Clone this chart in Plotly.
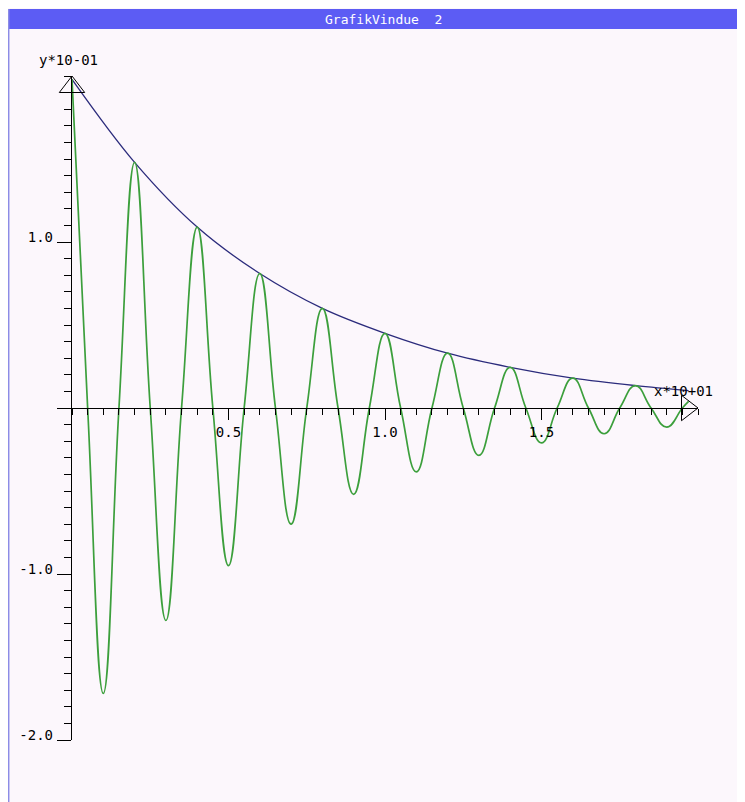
import plotly.graph_objects as go

# values in display units (x*10+01, y*10-01)
PEAK_X = [0.0, 0.1, 0.2, 0.3, 0.4, 0.5, 0.6, 0.7, 0.8, 0.9,
          1.0, 1.1, 1.2, 1.3, 1.4, 1.5, 1.6, 1.7, 1.8, 1.9, 1.97]
PEAK_Y = [1.98, -1.72, 1.48, -1.28, 1.09, -0.95, 0.81, -0.70, 0.60, -0.52,
          0.45, -0.385, 0.33, -0.285, 0.245, -0.21, 0.18, -0.155, 0.135, -0.115, 0.04]
CROSS_X = [0.05, 0.15, 0.25, 0.35, 0.45, 0.55, 0.65, 0.75, 0.85, 0.95,
           1.05, 1.15, 1.25, 1.35, 1.45, 1.55, 1.65, 1.75, 1.85, 1.95]

ENV_X = [0.0, 0.2, 0.4, 0.6, 0.8, 1.0, 1.2, 1.4, 1.6, 1.8, 1.97]
ENV_Y = [1.98, 1.48, 1.09, 0.81, 0.60, 0.45, 0.33, 0.245, 0.18, 0.135, 0.105]

X_TICKS = [0.5, 1.0, 1.5]
X_LABELS = ["0.5", "1.0", "1.5"]
Y_TICKS = [-2.0, -1.0, 0.0, 1.0]
Y_LABELS = ["-2.0", "-1.0", "", "1.0"]

# the page body adds 8px of white on the top and left
W, H = 737, 794
L, T, PW, PH = 64, 68, 626, 664
MONO = "DejaVu Sans Mono"


def px(x):
    # page pixel -> paper coordinate
    return (x - 8 - L) / PW


def py(y):
    return 1 - (y - 8 - T) / PH


pts = sorted(list(zip(PEAK_X, PEAK_Y)) + [(c, 0.0) for c in CROSS_X])
green_x = [p[0] for p in pts]
green_y = [p[1] for p in pts]

fig = go.Figure()
fig.add_trace(go.Scatter(
    x=ENV_X, y=ENV_Y, mode="lines",
    line=dict(color="#2b2b7c", width=1.3, shape="spline", smoothing=1.0),
    cliponaxis=False, showlegend=False,
))
fig.add_trace(go.Scatter(
    x=green_x, y=green_y, mode="lines",
    line=dict(color="#3c9f3c", width=1.7, shape="spline", smoothing=1.3),
    cliponaxis=False, showlegend=False,
))
# hollow arrow heads at the axis ends
fig.add_trace(go.Scatter(
    x=[0.0], y=[2.0 - 11 / 166], mode="markers",
    marker=dict(symbol="triangle-up-open", size=22, color="black", line=dict(width=1)),
    cliponaxis=False, showlegend=False,
))
fig.add_trace(go.Scatter(
    x=[2.0 - 11 / 313], y=[0.0], mode="markers",
    marker=dict(symbol="triangle-right-open", size=22, color="black", line=dict(width=1)),
    cliponaxis=False, showlegend=False,
))

bg = "#fcf7fc"
shapes = [
    dict(type="rect", xref="paper", yref="paper",
         x0=px(8), x1=px(760), y0=py(9), y1=py(29), fillcolor="#5c5cf4", line_width=0),
    dict(type="line", xref="paper", yref="paper",
         x0=px(8.7), x1=px(8.7), y0=py(9), y1=py(810), line=dict(color="#8c8ce6", width=1.5)),
]

annotations = [
    dict(text="GrafikVindue  2", x=px(383), y=py(19), xref="paper", yref="paper",
         xanchor="center", yanchor="middle",
         showarrow=False, font=dict(family=MONO, size=13, color="white")),
    dict(text="y*10-01", x=px(37), y=py(60), xref="paper", yref="paper",
         xanchor="left", yanchor="middle",
         showarrow=False, font=dict(family=MONO, size=14, color="black")),
    dict(text="x*10+01", x=px(652), y=py(391), xref="paper", yref="paper",
         xanchor="left", yanchor="middle",
         showarrow=False, font=dict(family=MONO, size=14, color="black")),
]

fig.update_layout(
    width=W, height=H,
    margin=dict(l=L, r=W - L - PW, t=T, b=H - T - PH),
    paper_bgcolor=bg, plot_bgcolor=bg,
    shapes=shapes, annotations=annotations,
    font=dict(family=MONO, size=14, color="black"),
    xaxis=dict(
        range=[0, 2.0], anchor="free", position=0.5,
        showline=True, linecolor="black", linewidth=1.3,
        showgrid=False, zeroline=False,
        tickmode="array", tickvals=X_TICKS, ticktext=X_LABELS,
        ticks="outside", ticklen=11, tickwidth=1.3, tickcolor="black",
        minor=dict(tickmode="linear", tick0=0, dtick=0.05, ticks="outside",
                   ticklen=6, tickwidth=1.3, tickcolor="black", showgrid=False),
    ),
    yaxis=dict(
        range=[-2.0, 2.0],
        showline=True, linecolor="black", linewidth=1.3,
        showgrid=False, zeroline=False,
        tickmode="array", tickvals=Y_TICKS, ticktext=Y_LABELS,
        ticks="outside", ticklen=14, tickwidth=1.3, tickcolor="black",
        ticklabelshift=-5, ticklabelstandoff=1,
        minor=dict(tickmode="linear", tick0=0, dtick=0.1, ticks="outside",
                   ticklen=7, tickwidth=1.3, tickcolor="black", showgrid=False),
    ),
)

fig.write_html("out.html")
